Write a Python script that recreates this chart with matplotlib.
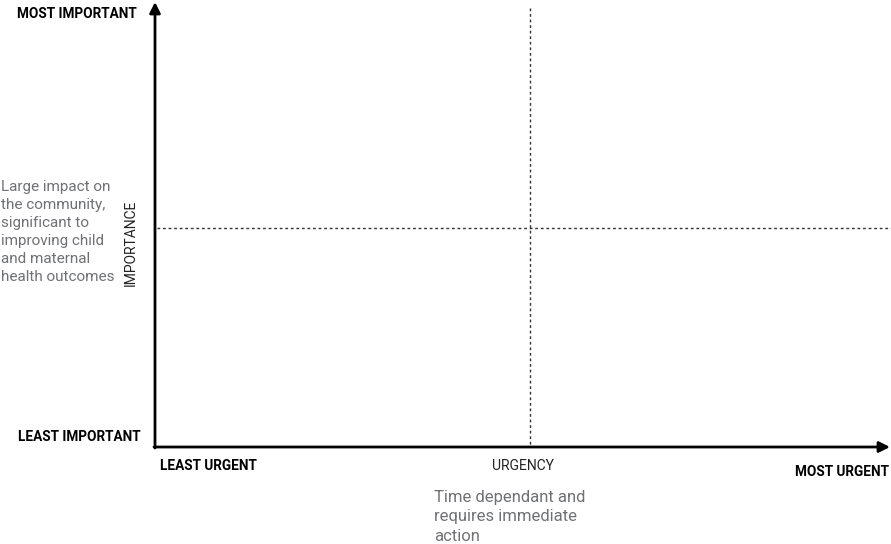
import matplotlib.pyplot as plt

# labels of the urgency / importance matrix
y_top_label = "MOST IMPORTANT"
y_bottom_label = "LEAST IMPORTANT"
x_left_label = "LEAST URGENT"
x_right_label = "MOST URGENT"
x_title = "URGENCY"
y_title = "IMPORTANCE"
y_note = "Large impact on\nthe community,\nsignificant to\nimproving child\nand maternal\nhealth outcomes"
x_note = "Time dependant and\nrequires immediate\naction"

plt.rcParams['font.family'] = ['Roboto', 'DejaVu Sans']

fig = plt.figure(figsize=(8.91, 5.44), dpi=100)
ax = fig.add_axes([0, 0, 1, 1])
ax.set_xlim(0, 891)
ax.set_ylim(544, 0)
ax.axis('off')

# axes arrows
ax.annotate('', xy=(155, 2), xytext=(155, 448),
            arrowprops=dict(arrowstyle='-|>', lw=2, color='black', mutation_scale=16, shrinkA=0, shrinkB=0))
ax.annotate('', xy=(890, 447), xytext=(154, 447),
            arrowprops=dict(arrowstyle='-|>', lw=2, color='black', mutation_scale=16, shrinkA=0, shrinkB=0))

# quadrant dividers
ax.plot([530, 530], [8, 446], ls=(0, (2, 2)), color='#333333', lw=1)
ax.plot([157, 891], [228, 228], ls=(0, (2, 2)), color='#333333', lw=1)

bold = dict(fontsize=9.8, fontweight='bold', color='black')
ax.text(137, 14, y_top_label, ha='right', va='center', **bold)
ax.text(141, 437, y_bottom_label, ha='right', va='center', **bold)
ax.text(160, 466, x_left_label, ha='left', va='center', **bold)
ax.text(889, 472, x_right_label, ha='right', va='center', **bold)

ax.text(523, 466, x_title, ha='center', va='center', fontsize=10, color='#222222')
ax.text(131, 243, y_title, ha='center', va='center', rotation=90, fontsize=10, color='#222222')

ax.text(1, 180, y_note, ha='left', va='top', fontsize=11, color='#6f7175', linespacing=1.37)
ax.text(434, 490, x_note, ha='left', va='top', fontsize=12, color='#6f7175', linespacing=1.36)

fig.savefig('out.png', dpi=100)
